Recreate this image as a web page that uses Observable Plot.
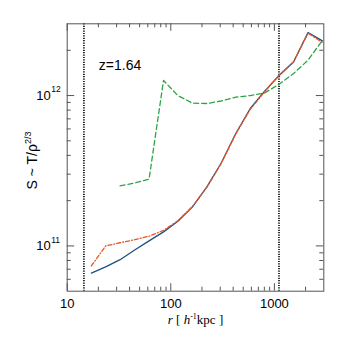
<!DOCTYPE html>
<html><head><meta charset="utf-8">
<script src="https://cdn.jsdelivr.net/npm/d3@7"></script>
<script src="https://cdn.jsdelivr.net/npm/@observablehq/plot@0.6"></script>
<style>body{margin:0;background:#fff}</style></head>
<body><div id="c"></div>
<script>
// radii (h^-1 kpc)
const r = [17.1,23.5,32.4,44.8,61.7,85.1,117,162,223,307,424,585,806,1112,1531,2113,2911];
// entropy profiles
const sBlue  = [6.6e10,7.25e10,8.1e10,9.4e10,1.08e11,1.24e11,1.46e11,1.82e11,2.47e11,3.56e11,5.59e11,8.2e11,1.07e12,1.36e12,1.67e12,2.62e12,2.31e12];
const sRed   = [7.36e10,1.0e11,1.05e11,1.10e11,1.16e11,1.27e11,1.47e11,1.83e11,2.45e11,3.54e11,5.55e11,8.1e11,1.06e12,1.37e12,1.68e12,2.6e12,2.25e12];
const rGreen = [32.4,44.8,61.7,85.1,117,162,223,307,424,585,806,1112,1531,2113,2911];
const sGreen = [2.51e11,2.62e11,2.78e11,1.26e12,1.0e12,8.9e11,8.85e11,9.2e11,9.75e11,1.0e12,1.04e12,1.19e12,1.40e12,1.72e12,2.33e12];
// vertical reference radii
const rRef = [14.5, 1108];
// ticks
const xMajor = [10,100,1000];
const xMinor = [20,30,40,50,60,70,80,90,200,300,400,500,600,700,800,900,2000];
const yMajor = [1e11,1e12];
const yMinor = [6e10,7e10,8e10,9e10,2e11,3e11,4e11,5e11,6e11,7e11,8e11,9e11,2e12];
const zLabel = "z=1.64";
const xTitle = "r [ h-1kpc ]";
const yTitle = "S ~ T/ρ2/3";

const W=338,H=338, ml=66.7, mr=14.7, mt=23.3, mb=47.3;
const iH = H-mt-mb, iW = W-ml-mr;
const ax = "#555";
const toPts = (xs, ys) => xs.map((x,i)=>({x, y: ys[i]}));

const chart = Plot.plot({
  width: W, height: H, marginLeft: ml, marginRight: mr, marginTop: mt, marginBottom: mb,
  x: {type:"log", domain:[10,3000], axis:null},
  y: {type:"log", domain:[5e10,3e12], axis:null},
  style: {fontFamily:"'Liberation Sans', Arial, sans-serif", fontSize:"13px", background:"#fff", color:"#000"},
  marks: [
    Plot.ruleX(rRef, {x: d=>d, stroke:"#000", strokeWidth:1.6, strokeDasharray:"1.2,1.2"}),
    Plot.line(toPts(rGreen, sGreen), {x:"x", y:"y", stroke:"#2ca444", strokeWidth:1.3, strokeDasharray:"5,3"}),
    Plot.line(toPts(r, sBlue), {x:"x", y:"y", stroke:"#1f4f80", strokeWidth:1.3}),
    Plot.line(toPts(r, sRed), {x:"x", y:"y", stroke:"#e4572a", strokeWidth:1.3, strokeDasharray:"4,2,1,2"}),
    // ticks (inward on all sides)
    Plot.tickX(xMajor, {x:d=>d, insetTop: iH-7.5, stroke: ax}),
    Plot.tickX(xMinor, {x:d=>d, insetTop: iH-4, stroke: ax}),
    Plot.tickX(xMajor, {x:d=>d, insetBottom: iH-7.5, stroke: ax}),
    Plot.tickX(xMinor, {x:d=>d, insetBottom: iH-4, stroke: ax}),
    Plot.tickY(yMajor, {y:d=>d, insetRight: iW-7.5, stroke: ax}),
    Plot.tickY(yMinor, {y:d=>d, insetRight: iW-4, stroke: ax}),
    Plot.tickY(yMajor, {y:d=>d, insetLeft: iW-7.5, stroke: ax}),
    Plot.tickY(yMinor, {y:d=>d, insetLeft: iW-4, stroke: ax}),
    Plot.frame({stroke: ax}),
    // tick labels
    Plot.text(xMajor, {x:d=>d, frameAnchor:"bottom", text:d=>String(d), dy:8, lineAnchor:"top", fontSize:13}),
    Plot.text(yMajor, {y:d=>d, frameAnchor:"left", text:()=>"10", textAnchor:"end", dx:-16.5, lineAnchor:"middle", fontSize:13}),
    Plot.text(yMajor, {y:d=>d, frameAnchor:"left", text:d=>String(Math.round(Math.log10(d))), textAnchor:"start", dx:-16, dy:-6, lineAnchor:"middle", fontSize:8.5}),
    // annotation
    Plot.text([zLabel], {frameAnchor:"top-left", text:d=>d, dx:31.6, dy:41.7, textAnchor:"start", lineAnchor:"middle", fontSize:14}),
    // axis titles
    Plot.text([yTitle], {frameAnchor:"left", text:d=>d, rotate:-90, dx:-34.2, dy:3, textAnchor:"middle", lineAnchor:"middle", fontSize:14}),
    Plot.text([xTitle], {frameAnchor:"bottom", text:d=>d, dy:28.8, textAnchor:"middle", lineAnchor:"middle", fontSize:13, fontFamily:"'Liberation Serif', 'Times New Roman', serif"})
  ]
});
document.getElementById("c").appendChild(chart);

// rich text: italics and superscripts
const NS = "http://www.w3.org/2000/svg";
function rich(el, parts) {
  while (el.firstChild) el.removeChild(el.firstChild);
  for (const p of parts) {
    const t = document.createElementNS(NS, "tspan");
    t.textContent = p.t;
    if (p.italic) t.setAttribute("font-style", "italic");
    if (p.dy) t.setAttribute("dy", p.dy);
    if (p.size) t.setAttribute("font-size", p.size);
    el.appendChild(t);
  }
}
for (const el of chart.querySelectorAll("text")) {
  if (el.textContent === xTitle) {
    rich(el, [{t:"r", italic:true}, {t:" [ "}, {t:"h", italic:true}, {t:"-1", dy:-5, size:8}, {t:"kpc ]", dy:5}]);
  } else if (el.textContent === yTitle) {
    rich(el, [{t:"S ~ T/ρ"}, {t:"2/3", dy:-6, size:9}]);
  }
}
</script>
</body></html>
